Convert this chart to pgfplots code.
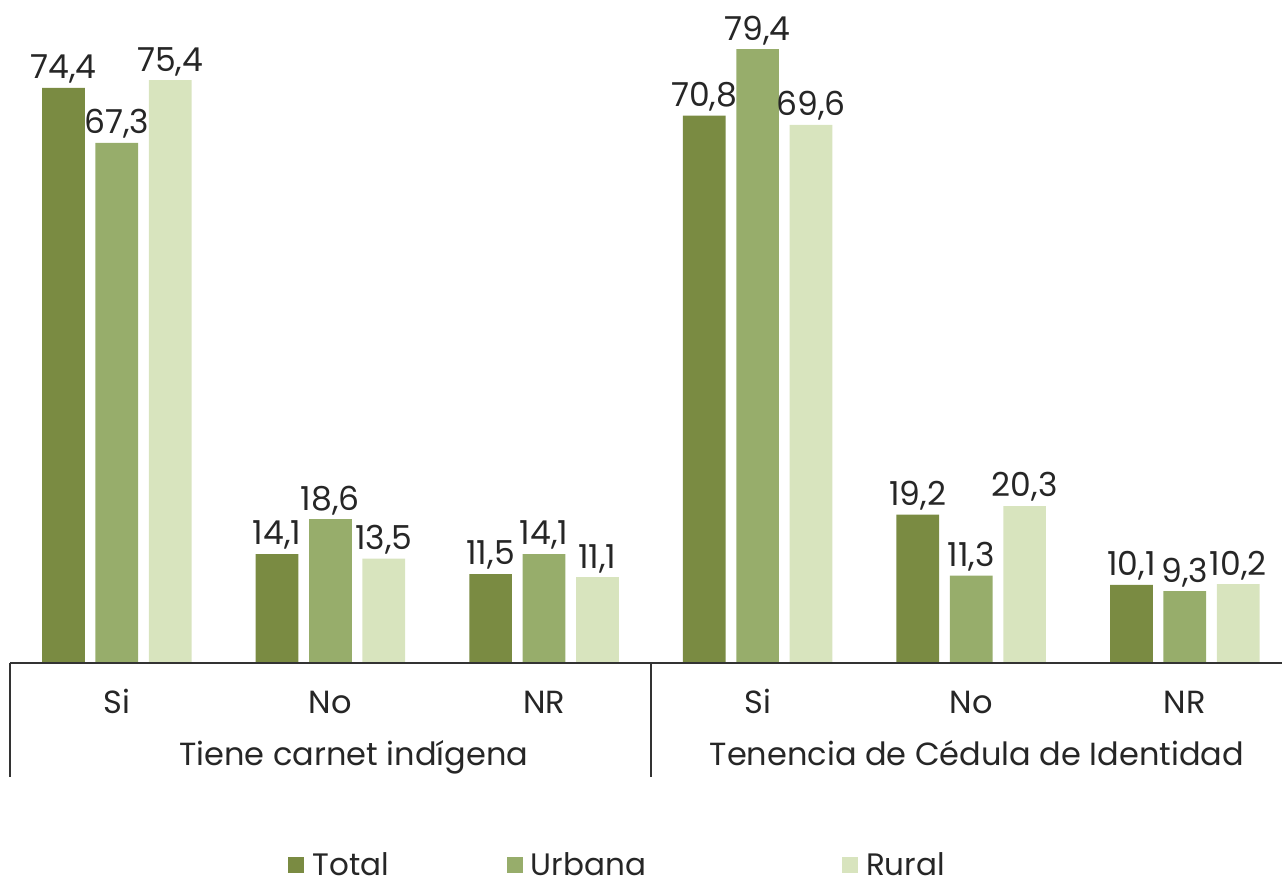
\documentclass[border=0pt]{standalone}
\usepackage{pgfplots}
\pgfplotsset{compat=1.18}
\usepackage{fontspec}
\setmainfont{Poppins}
\definecolor{cTotal}{HTML}{7A8B42}
\definecolor{cUrb}{HTML}{97AD6B}
\definecolor{cRur}{HTML}{D8E4BE}
\begin{document}
\begin{tikzpicture}
\begin{axis}[
  width=636pt, height=331.5pt, scale only axis,
  xmin=-0.5, xmax=5.455, ymin=0, ymax=85.77,
  axis line style={draw=none},
  ytick=\empty,
  xtick={0,1,2,3,4,5},
  xticklabels={Si,No,NR,Si,No,NR},
  xtick style={draw=none},
  xticklabel style={anchor=base, yshift=-21pt, font=\fontsize{16}{19}\selectfont, text=black!85},
  ybar, bar width=0.2,
  clip=false,
  /pgf/number format/.cd, use comma, fixed, fixed zerofill, precision=1, assume math mode=true,
  /pgfplots/.cd,
  nodes near coords,
  every node near coord/.append style={font=\fontsize{16.5}{19}\selectfont, text=black!85, inner ysep=2pt},
  legend columns=3,
  legend image code/.code={\fill[#1,draw=none] (0pt,-4pt) rectangle (8pt,4pt); \path (10pt,0pt);},
  legend style={draw=none, fill=none, at={(axis description cs:0.2186,-0.305)}, anchor=west,
    font=\fontsize{15.5}{19}\selectfont, text=black!85, inner sep=0pt,
    /tikz/column 2/.style={column sep=57pt},
    /tikz/column 4/.style={column sep=96pt}},
]
\addplot[fill=cTotal, draw=none, bar shift=-0.25] coordinates {(0,74.4) (1,14.1) (2,11.5) (3,70.8) (4,19.2) (5,10.1)};
\addplot[fill=cUrb, draw=none, bar shift=0] coordinates {(0,67.3) (1,18.6) (2,14.1) (3,79.4) (4,11.3) (5,9.3)};
\addplot[fill=cRur, draw=none, bar shift=0.25] coordinates {(0,75.4) (1,13.5) (2,11.1) (3,69.6) (4,20.3) (5,10.2)};
\legend{Total,Urbana,Rural}
\draw[black!80, line width=0.8pt] (rel axis cs:0,0) -- (rel axis cs:1,0);
\draw[black!80, line width=0.8pt] (axis cs:-0.5,0) -- ([yshift=-57pt]axis cs:-0.5,0);
\draw[black!80, line width=0.8pt] (axis cs:2.5,0) -- ([yshift=-57pt]axis cs:2.5,0);
\node[anchor=base, font=\fontsize{16}{19}\selectfont, text=black!85] at ([yshift=-51pt]axis cs:1.11,0) {Tiene carnet indígena};
\node[anchor=base, font=\fontsize{16}{19}\selectfont, text=black!85] at ([yshift=-51pt]axis cs:4.027,0) {Tenencia de Cédula de Identidad};
\coordinate (BL) at ([xshift=-5pt,yshift=-110.5pt]rel axis cs:0,0);
\coordinate (TR) at (rel axis cs:1,1);
\end{axis}
\pgfresetboundingbox
\path (BL) rectangle (TR);
\end{tikzpicture}
\end{document}
